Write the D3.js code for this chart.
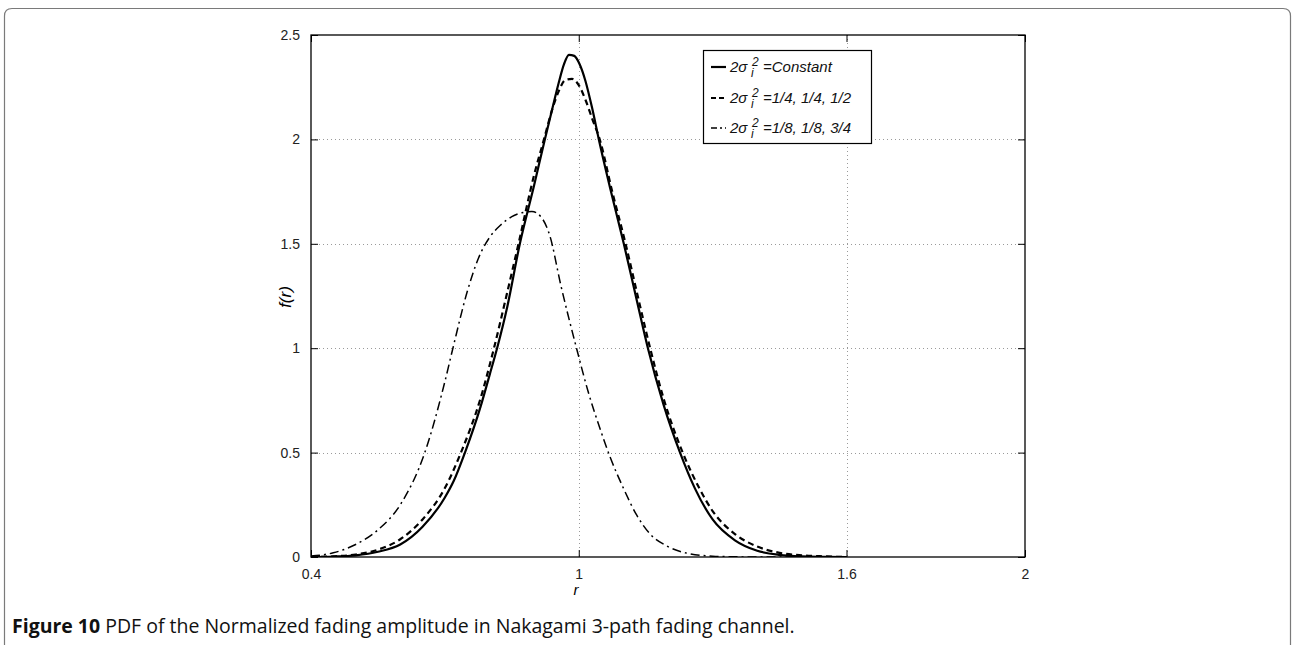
<!DOCTYPE html>
<html>
<head>
<meta charset="utf-8">
<script src="https://cdn.jsdelivr.net/npm/d3@7"></script>
<style>
  html, body { margin: 0; padding: 0; background: #fff; }
  svg { display: block; }
</style>
</head>
<body>
<svg id="chart" width="1294" height="645"></svg>
<script>
// Normalised fading amplitude r and PDF f(r) for the three power profiles
const rConst = [0.40,0.45,0.50,0.55,0.60,0.65,0.70,0.72,0.745,0.78,0.80,0.817,0.84,0.868,0.90,0.924,0.94,0.955,0.967,0.978,0.99,1.002,1.015,1.03,1.045,1.07,1.101,1.13,1.155,1.19,1.227,1.26,1.30,1.35,1.40,1.45,1.50,1.55,1.60];
const fConst = [0.000,0.002,0.008,0.025,0.060,0.145,0.285,0.365,0.500,0.720,0.870,1.000,1.200,1.500,1.780,2.000,2.140,2.270,2.360,2.405,2.400,2.360,2.280,2.150,2.000,1.770,1.500,1.230,1.000,0.730,0.500,0.330,0.180,0.080,0.030,0.010,0.003,0.001,0.000];

const rHalf = [0.40,0.45,0.50,0.55,0.60,0.65,0.70,0.736,0.78,0.81,0.84,0.865,0.90,0.922,0.94,0.955,0.97,0.985,1.00,1.015,1.03,1.047,1.075,1.105,1.13,1.16,1.19,1.233,1.27,1.30,1.35,1.40,1.45,1.50,1.55,1.60];
const fHalf = [0.000,0.003,0.012,0.035,0.085,0.180,0.330,0.500,0.760,1.000,1.270,1.500,1.830,2.000,2.140,2.230,2.285,2.290,2.260,2.190,2.100,2.000,1.750,1.500,1.270,1.000,0.760,0.500,0.330,0.220,0.110,0.050,0.020,0.008,0.003,0.000];

const rQuarter = [0.40,0.45,0.50,0.55,0.60,0.655,0.70,0.718,0.75,0.775,0.80,0.825,0.85,0.875,0.895,0.915,0.935,0.96,0.995,1.02,1.05,1.07,1.10,1.13,1.16,1.20,1.25,1.30,1.35,1.40,1.50,1.60];
const fQuarter = [0.005,0.020,0.060,0.130,0.250,0.500,0.840,1.000,1.270,1.430,1.530,1.590,1.630,1.650,1.655,1.630,1.540,1.300,1.000,0.800,0.600,0.480,0.330,0.200,0.110,0.050,0.015,0.004,0.001,0.000,0.000,0.000];

const seriesNames = ["=Constant", "=1/4, 1/4, 1/2", "=1/8, 1/8, 3/4"];
const xTicks = [0.4, 1, 1.6, 2];
const yTicks = [0, 0.5, 1, 1.5, 2, 2.5];
const xGrid = [1, 1.6];
const yGrid = [0.5, 1, 1.5, 2];
const captionBold = "Figure 10";
const captionRest = " PDF of the Normalized fading amplitude in Nakagami 3-path fading channel.";

const svg = d3.select("#chart");

// outer panel with rounded top corners
svg.append("path")
  .attr("d", "M4.5,660 L4.5,16 Q4.5,8.5 12,8.5 L1283,8.5 Q1290.5,8.5 1290.5,16 L1290.5,660")
  .attr("fill", "none").attr("stroke", "#7a7a7a").attr("stroke-width", 1.2);

const L = 311, R = 1025, T = 35, B = 557;
const x = d3.scaleLinear().domain([0.4, 2]).range([L, R]);
const y = d3.scaleLinear().domain([0, 2.5]).range([B, T]);

const tickFont = "'Liberation Sans', Arial, Helvetica, sans-serif";

// dotted grid
const grid = svg.append("g").attr("stroke", "#9a9a9a").attr("stroke-width", 1).attr("stroke-dasharray", "1,3");
grid.selectAll("line.gx").data(xGrid).join("line")
  .attr("x1", d => Math.round(x(d)) + 0.5).attr("x2", d => Math.round(x(d)) + 0.5)
  .attr("y1", T).attr("y2", B);
grid.selectAll("line.gy").data(yGrid).join("line")
  .attr("y1", d => Math.round(y(d)) + 0.5).attr("y2", d => Math.round(y(d)) + 0.5)
  .attr("x1", L).attr("x2", R);

// axes with inward ticks (all four sides)
function styleAxis(g) {
  g.attr("font-size", null).attr("font-family", null);
  g.select(".domain").remove();
  g.selectAll(".tick line").attr("stroke", "#000").attr("stroke-width", 1);
  g.selectAll(".tick text").style("font-family", tickFont).style("font-size", "14px").attr("fill", "#222");
}
svg.append("g").attr("transform", `translate(0,${B})`)
  .call(d3.axisBottom(x).tickValues(xTicks).tickFormat(d3.format("")).tickSizeInner(-7).tickSizeOuter(0).tickPadding(12))
  .call(styleAxis);
svg.append("g").attr("transform", `translate(0,${T})`)
  .call(d3.axisTop(x).tickValues(xTicks).tickFormat("").tickSizeInner(-7).tickSizeOuter(0))
  .call(styleAxis);
svg.append("g").attr("transform", `translate(${L},0)`)
  .call(d3.axisLeft(y).tickValues(yTicks).tickFormat(d3.format("")).tickSizeInner(-7).tickSizeOuter(0).tickPadding(11))
  .call(styleAxis);
svg.append("g").attr("transform", `translate(${R},0)`)
  .call(d3.axisRight(y).tickValues(yTicks).tickFormat("").tickSizeInner(-7).tickSizeOuter(0))
  .call(styleAxis);

// plot frame
svg.append("rect").attr("x", L).attr("y", T).attr("width", R - L).attr("height", B - T)
  .attr("fill", "none").attr("stroke", "#000").attr("stroke-width", 1.3);

// curves
const line = d3.line().x(d => x(d[0])).y(d => y(d[1])).curve(d3.curveMonotoneX);
const styles = [
  { dash: null, width: 2.2 },
  { dash: "6,4", width: 2.2 },
  { dash: "9,4,2,4", width: 1.5 }
];
const curves = [
  d3.zip(rConst, fConst),
  d3.zip(rHalf, fHalf),
  d3.zip(rQuarter, fQuarter)
];
svg.append("clipPath").attr("id", "plotClip")
  .append("rect").attr("x", L).attr("y", T - 2).attr("width", R - L).attr("height", B - T + 2);
svg.append("g").attr("clip-path", "url(#plotClip)")
  .selectAll("path").data(curves).join("path")
  .attr("d", line)
  .attr("fill", "none").attr("stroke", "#000")
  .attr("stroke-width", (d, i) => styles[i].width)
  .attr("stroke-dasharray", (d, i) => styles[i].dash)
  .attr("stroke-linejoin", "round");

// legend
const lg = svg.append("g");
lg.append("rect").attr("x", 703.5).attr("y", 50.5).attr("width", 168).attr("height", 93)
  .attr("fill", "#fff").attr("stroke", "#000").attr("stroke-width", 1.2);
const rows = [67, 98, 128];
seriesNames.forEach((name, i) => {
  const yy = rows[i];
  lg.append("line").attr("x1", 711).attr("x2", 726).attr("y1", yy).attr("y2", yy)
    .attr("stroke", "#000").attr("stroke-width", styles[i].width)
    .attr("stroke-dasharray", i === 1 ? "5,3" : (i === 2 ? "6,3,2,3" : null));
  const t = lg.append("g").attr("font-family", tickFont).attr("font-style", "italic").attr("fill", "#111");
  t.append("text").attr("x", 730).attr("y", yy + 5).attr("font-size", 15).text("2σ");
  t.append("text").attr("x", 752).attr("y", yy - 1).attr("font-size", 12).text("2");
  t.append("text").attr("x", 751).attr("y", yy + 10).attr("font-size", 12).text("i");
  t.append("text").attr("x", 763).attr("y", yy + 5).attr("font-size", 15).text(name);
});

// axis titles
svg.append("text").attr("x", 576).attr("y", 595).attr("text-anchor", "middle")
  .attr("font-family", tickFont).attr("font-style", "italic").attr("font-size", 15).text("r");
svg.append("text").attr("transform", "translate(291,297) rotate(-90)").attr("text-anchor", "middle")
  .attr("font-family", tickFont).attr("font-style", "italic").attr("font-size", 17).text("f(r)");

// caption
const cap = svg.append("text").attr("x", 12).attr("y", 633)
  .attr("font-family", "'Open Sans', 'Noto Sans', sans-serif").attr("font-size", 16).attr("fill", "#111");
cap.append("tspan").attr("font-weight", "bold").text(captionBold);
cap.append("tspan").text(captionRest);
const w = cap.node().getComputedTextLength();
cap.attr("font-size", 16 * 783 / w);
</script>
</body>
</html>
